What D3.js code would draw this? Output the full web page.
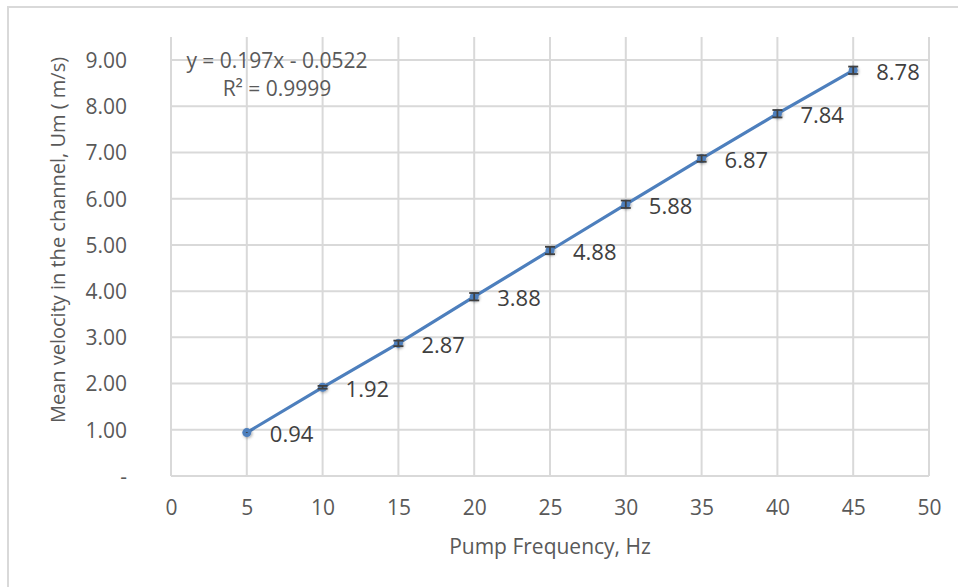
<!DOCTYPE html>
<html><head><meta charset="utf-8">
<script src="https://cdn.jsdelivr.net/npm/d3@7"></script>
<style>
html,body{margin:0;padding:0;background:#fff;}
svg text{font-family:"Open Sans",sans-serif;}
</style></head>
<body>
<svg id="chart" width="958" height="587"></svg>
<script>
const frequency = [5, 10, 15, 20, 25, 30, 35, 40, 45];
const velocity = [0.94, 1.92, 2.87, 3.88, 4.88, 5.88, 6.87, 7.84, 8.78];
const errorBar = [0.01, 0.03, 0.06, 0.08, 0.08, 0.08, 0.07, 0.08, 0.08];
const xTicks = [0, 5, 10, 15, 20, 25, 30, 35, 40, 45, 50];
const yTicks = [0, 1, 2, 3, 4, 5, 6, 7, 8, 9];
const yTickLabels = ["-", "1.00", "2.00", "3.00", "4.00", "5.00", "6.00", "7.00", "8.00", "9.00"];
const xTitle = "Pump Frequency, Hz";
const yTitle = "Mean velocity in the channel, Um ( m/s)";
const equation = "y = 0.197x - 0.0522";
const rSquared = "R² = 0.9999";

const svg = d3.select("#chart");
const x = d3.scaleLinear().domain([0, 50]).range([171, 929]);
const y = d3.scaleLinear().domain([0, 9.5]).range([476, 37]);
const grid = "#d9d9d9", txt = "#595959", blue = "#4d7fbd";

// chart frame
svg.append("path").attr("d", "M8,587 L8,7 L958,7").attr("fill", "none")
  .attr("stroke", grid).attr("stroke-width", 2);

const defs = svg.append("defs");
const f = defs.append("filter").attr("id", "shadow").attr("x", "-50%").attr("y", "-50%").attr("width", "200%").attr("height", "200%");
f.append("feDropShadow").attr("dx", 1).attr("dy", 1).attr("stdDeviation", 1.5).attr("flood-color", "#000").attr("flood-opacity", 0.35);

// gridlines
svg.append("g").selectAll("line").data(yTicks).join("line")
  .attr("x1", x(0)).attr("x2", x(50)).attr("y1", d => y(d)).attr("y2", d => y(d))
  .attr("stroke", grid).attr("stroke-width", 2);
svg.append("g").selectAll("line").data(xTicks).join("line")
  .attr("x1", d => x(d)).attr("x2", d => x(d)).attr("y1", y(0)).attr("y2", y(9.5))
  .attr("stroke", grid).attr("stroke-width", 2);

// axes tick labels
const xAxis = d3.axisBottom(x).tickValues(xTicks).tickSize(0).tickPadding(0);
const gx = svg.append("g").attr("transform", `translate(0,${y(0) + 39})`).call(xAxis);
gx.select(".domain").remove();
gx.selectAll("text").attr("font-size", 21).attr("fill", txt).attr("dy", 0).attr("font-family", "Open Sans");

const yAxis = d3.axisLeft(y).tickValues(yTicks).tickSize(0).tickPadding(0)
  .tickFormat((d, i) => yTickLabels[i]);
const gy = svg.append("g").attr("transform", `translate(127,0)`).call(yAxis);
gy.select(".domain").remove();
gy.selectAll("text").attr("font-size", 21).attr("fill", txt).attr("dy", "0.35em").attr("font-family", "Open Sans");

// titles
svg.append("text").attr("x", (x(0) + x(50)) / 2).attr("y", 554).attr("text-anchor", "middle")
  .attr("font-size", 21).attr("fill", txt).text(xTitle);
svg.append("text").attr("transform", "translate(65,240) rotate(-90)").attr("text-anchor", "middle")
  .attr("font-size", 20).attr("fill", txt).text(yTitle);

// line
const line = d3.line().x((d, i) => x(frequency[i])).y(d => y(d));
svg.append("path").datum(velocity).attr("d", line).attr("fill", "none")
  .attr("stroke", blue).attr("stroke-width", 3.2).attr("stroke-linecap", "round");

// markers
svg.append("g").selectAll("circle").data(velocity).join("circle")
  .attr("cx", (d, i) => x(frequency[i])).attr("cy", d => y(d)).attr("r", 4.5)
  .attr("fill", blue).attr("filter", "url(#shadow)");

// error bars
const eb = svg.append("g").attr("stroke", "#404040").attr("stroke-width", 1.8);
velocity.forEach((v, i) => {
  const cx = x(frequency[i]), e = errorBar[i];
  eb.append("line").attr("x1", cx).attr("x2", cx).attr("y1", y(v - e)).attr("y2", y(v + e));
  if (e > 0.02) {
    [v - e, v + e].forEach(yy => eb.append("line").attr("x1", cx - 5).attr("x2", cx + 5).attr("y1", y(yy)).attr("y2", y(yy)));
  }
});

// data labels
svg.append("g").selectAll("text").data(velocity).join("text")
  .attr("x", (d, i) => x(frequency[i]) + 23).attr("y", d => y(d) + 2).attr("dy", "0.35em")
  .attr("font-size", 22).attr("fill", "#404040").text(d => d.toFixed(2));

// trendline equation
svg.append("text").attr("x", 277).attr("y", 61).attr("dy", "0.35em").attr("text-anchor", "middle")
  .attr("font-size", 21).attr("fill", txt).text(equation);
svg.append("text").attr("x", 277).attr("y", 89).attr("dy", "0.35em").attr("text-anchor", "middle")
  .attr("font-size", 21).attr("fill", txt).text(rSquared);
</script>
</body></html>
